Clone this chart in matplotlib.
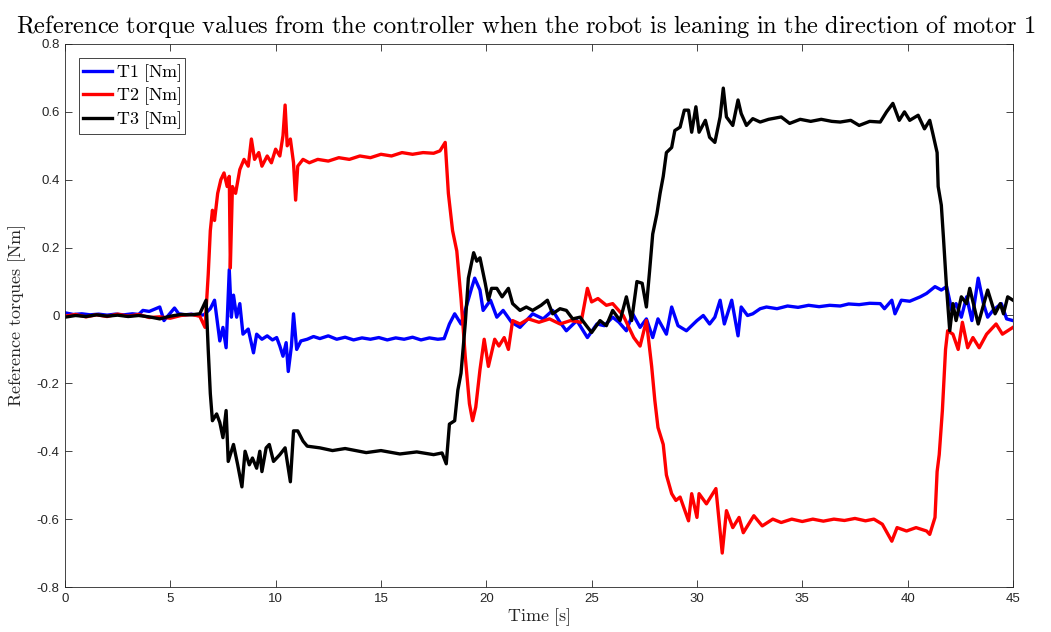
import numpy as np
import matplotlib
matplotlib.use("Agg")
import matplotlib.pyplot as plt

# torque references read back from the controller log (time in s, torque in Nm)
t1 = [0, 0.4, 0.8, 1.2, 1.6, 2.0, 2.4, 2.8, 3.2, 3.5, 3.7, 4.0, 4.3, 4.5, 4.7, 4.9, 5.2, 5.4, 5.7, 6.0,
      6.3, 6.6, 6.9, 7.1, 7.35, 7.5, 7.65, 7.8, 7.9, 8.0, 8.15, 8.3, 8.45, 8.7, 8.95, 9.1, 9.35, 9.6,
      9.85, 10.05, 10.2, 10.35, 10.5, 10.6, 10.75, 10.85, 11.0, 11.2, 11.5, 11.8, 12.1, 12.5, 12.9,
      13.3, 13.7, 14.1, 14.5, 14.9, 15.3, 15.7, 16.1, 16.5, 16.9, 17.3, 17.7, 18.0, 18.25, 18.5, 18.8,
      19.0, 19.3, 19.45, 19.7, 19.85, 20.2, 20.5, 20.8, 21.2, 21.6, 22.2, 22.7, 23.15, 23.5, 23.8,
      24.3, 24.8, 25.25, 25.6, 26.0, 26.3, 26.65, 26.95, 27.3, 27.6, 27.9, 28.15, 28.55, 28.8, 29.1,
      29.5, 30.0, 30.3, 30.6, 30.85, 31.1, 31.3, 31.65, 31.95, 32.1, 32.4, 32.65, 33.0, 33.3, 33.8,
      34.3, 34.8, 35.3, 35.8, 36.3, 36.8, 37.2, 37.7, 38.2, 38.7, 38.9, 39.25, 39.4, 39.7, 40.1,
      40.6, 40.9, 41.3, 41.6, 41.85, 42.1, 42.3, 42.55, 42.8, 43.05, 43.35, 43.6, 43.8, 44.05,
      44.45, 44.7, 45.0]
T1 = [0.008, 0.003, 0.005, 0.002, 0.004, 0.001, 0.004, 0.002, 0.005, 0.003, 0.015, 0.012, 0.02,
      0.025, -0.015, 0.0, 0.022, 0.005, 0.002, 0.004, 0.0, 0.002, 0.02, 0.045, -0.075, -0.035,
      -0.095, 0.135, -0.005, 0.06, -0.005, 0.035, -0.055, -0.04, -0.11, -0.055, -0.07, -0.06,
      -0.072, -0.065, -0.09, -0.12, -0.08, -0.165, -0.09, 0.005, -0.10, -0.075, -0.07, -0.062,
      -0.068, -0.06, -0.07, -0.064, -0.072, -0.066, -0.07, -0.065, -0.072, -0.066, -0.07, -0.064,
      -0.072, -0.066, -0.07, -0.068, -0.025, 0.005, -0.025, 0.015, 0.08, 0.11, 0.075, 0.015, 0.045,
      -0.005, 0.015, -0.02, -0.035, 0.005, -0.01, 0.015, -0.02, -0.045, -0.015, -0.065, -0.025,
      -0.03, -0.005, -0.02, -0.045, 0.005, -0.035, -0.01, -0.065, -0.01, -0.055, 0.025, -0.03,
      -0.045, -0.015, 0.0, -0.025, -0.005, 0.045, -0.025, 0.045, -0.06, 0.025, 0.0, 0.005, 0.02,
      0.025, 0.02, 0.028, 0.024, 0.03, 0.026, 0.03, 0.028, 0.034, 0.032, 0.036, 0.035, 0.02, 0.045,
      0.005, 0.045, 0.042, 0.055, 0.065, 0.085, 0.075, 0.085, 0.015, 0.035, -0.005, 0.055, -0.015,
      0.11, 0.035, -0.005, 0.015, 0.035, -0.01, -0.015]

t2 = [0, 0.5, 1.0, 1.5, 2.0, 2.5, 3.0, 3.5, 4.0, 4.5, 5.0, 5.5, 6.0, 6.4, 6.65, 6.8, 6.9, 7.0, 7.1,
      7.25, 7.4, 7.55, 7.7, 7.8, 7.85, 7.95, 8.1, 8.3, 8.5, 8.7, 8.85, 9.0, 9.2, 9.35, 9.6, 9.8, 10.0,
      10.2, 10.35, 10.45, 10.55, 10.7, 10.85, 10.95, 11.05, 11.3, 11.6, 12.0, 12.5, 13.0, 13.5, 14.0,
      14.5, 15.0, 15.5, 16.0, 16.5, 17.0, 17.5, 17.8, 18.05, 18.2, 18.4, 18.6, 18.8, 19.0, 19.2,
      19.35, 19.5, 19.7, 19.9, 20.1, 20.4, 20.6, 20.85, 21.05, 21.25, 21.6, 22.0, 22.5, 23.0, 23.5,
      24.0, 24.5, 24.8, 25.0, 25.3, 25.7, 26.0, 26.5, 27.0, 27.3, 27.6, 27.85, 28.0, 28.15, 28.4,
      28.55, 28.8, 29.0, 29.2, 29.6, 29.75, 30.0, 30.1, 30.45, 30.9, 31.2, 31.4, 31.7, 32.0, 32.2,
      32.7, 33.1, 33.6, 34.0, 34.5, 35.0, 35.5, 36.0, 36.5, 37.0, 37.5, 38.0, 38.4, 38.8, 39.25,
      39.5, 39.95, 40.4, 40.9, 41.05, 41.3, 41.4, 41.5, 41.65, 41.8, 41.9, 42.15, 42.4, 42.6, 42.85,
      43.1, 43.4, 43.75, 44.2, 44.5, 45.0]
T2 = [-0.002, 0.003, -0.004, 0.002, -0.003, 0.004, -0.002, 0.003, -0.006, -0.004, -0.008, 0.0,
      0.003, -0.002, -0.035, 0.12, 0.25, 0.31, 0.28, 0.36, 0.40, 0.42, 0.38, 0.41, 0.14, 0.38, 0.36,
      0.43, 0.46, 0.44, 0.52, 0.46, 0.48, 0.44, 0.47, 0.45, 0.49, 0.47, 0.53, 0.62, 0.50, 0.52, 0.45,
      0.34, 0.44, 0.46, 0.45, 0.46, 0.455, 0.465, 0.46, 0.47, 0.465, 0.475, 0.47, 0.48, 0.475, 0.48,
      0.478, 0.485, 0.51, 0.36, 0.25, 0.19, 0.05, -0.12, -0.26, -0.31, -0.27, -0.16, -0.07, -0.15,
      -0.07, -0.09, -0.065, -0.10, -0.015, -0.025, -0.01, -0.02, -0.01, -0.025, -0.015, -0.02, 0.08,
      0.04, 0.05, 0.03, 0.035, 0.0, -0.065, -0.09, -0.015, -0.15, -0.25, -0.33, -0.38, -0.47,
      -0.525, -0.545, -0.535, -0.605, -0.525, -0.595, -0.525, -0.555, -0.51, -0.70, -0.575, -0.625,
      -0.595, -0.64, -0.59, -0.62, -0.60, -0.61, -0.60, -0.607, -0.60, -0.606, -0.60, -0.604,
      -0.598, -0.605, -0.60, -0.615, -0.665, -0.625, -0.635, -0.625, -0.635, -0.645, -0.595, -0.46,
      -0.41, -0.28, -0.10, -0.045, -0.055, -0.10, -0.02, -0.095, -0.065, -0.095, -0.055, -0.025,
      -0.055, -0.035]

t3 = [0, 0.5, 1.0, 1.5, 2.0, 2.5, 3.0, 3.5, 4.0, 4.5, 5.0, 5.5, 6.0, 6.4, 6.7, 6.8, 6.9, 7.0, 7.2,
      7.35, 7.5, 7.65, 7.75, 8.0, 8.2, 8.4, 8.55, 8.75, 8.9, 9.1, 9.25, 9.35, 9.55, 9.7, 9.9, 10.2,
      10.45, 10.7, 10.85, 11.05, 11.3, 11.5, 12.1, 12.7, 13.3, 14.3, 15.0, 15.9, 16.7, 17.5, 17.9,
      18.1, 18.25, 18.5, 18.65, 18.8, 19.0, 19.15, 19.4, 19.55, 19.7, 19.95, 20.1, 20.25, 20.5,
      20.75, 21.05, 21.25, 21.6, 21.9, 22.2, 22.6, 22.9, 23.15, 23.5, 23.8, 24.1, 24.45, 24.75, 25.0,
      25.4, 25.7, 26.0, 26.35, 26.65, 26.9, 27.15, 27.4, 27.6, 27.75, 27.9, 28.1, 28.25, 28.4, 28.55,
      28.8, 28.95, 29.2, 29.4, 29.6, 29.75, 29.95, 30.1, 30.4, 30.6, 30.85, 31.1, 31.25, 31.4, 31.7,
      31.95, 32.1, 32.35, 32.65, 33.0, 33.4, 34.0, 34.4, 34.9, 35.4, 35.9, 36.4, 36.8, 37.3, 37.7,
      38.2, 38.7, 39.0, 39.3, 39.6, 39.85, 40.1, 40.5, 40.8, 41.05, 41.2, 41.4, 41.45, 41.6, 41.7,
      41.85, 42.0, 42.15, 42.3, 42.55, 42.8, 42.95, 43.35, 43.8, 44.15, 44.4, 44.55, 44.75, 45.0]
T3 = [-0.005, 0.0, -0.003, 0.002, -0.002, 0.001, -0.003, 0.0, -0.004, -0.01, -0.002, 0.003, 0.002,
      0.005, 0.045, -0.10, -0.23, -0.31, -0.29, -0.315, -0.36, -0.28, -0.43, -0.38, -0.44, -0.505,
      -0.40, -0.44, -0.42, -0.45, -0.40, -0.46, -0.39, -0.38, -0.43, -0.41, -0.39, -0.49, -0.34,
      -0.34, -0.37, -0.385, -0.39, -0.398, -0.392, -0.404, -0.398, -0.408, -0.402, -0.41, -0.405,
      -0.437, -0.32, -0.31, -0.22, -0.17, -0.025, 0.11, 0.185, 0.16, 0.17, 0.095, 0.045, 0.08, 0.08,
      0.055, 0.08, 0.035, 0.015, 0.025, 0.015, 0.03, 0.045, 0.005, 0.02, 0.015, -0.01, -0.005, -0.03,
      -0.05, -0.015, -0.03, 0.015, -0.015, 0.055, -0.015, 0.10, 0.095, 0.025, 0.13, 0.24, 0.30, 0.36,
      0.41, 0.48, 0.495, 0.545, 0.555, 0.605, 0.605, 0.54, 0.615, 0.54, 0.575, 0.525, 0.51, 0.585,
      0.67, 0.585, 0.56, 0.635, 0.595, 0.56, 0.58, 0.57, 0.578, 0.585, 0.566, 0.578, 0.572, 0.578,
      0.572, 0.57, 0.575, 0.56, 0.572, 0.57, 0.60, 0.625, 0.575, 0.60, 0.575, 0.59, 0.55, 0.575,
      0.535, 0.48, 0.38, 0.325, 0.23, 0.08, -0.045, 0.035, -0.015, 0.055, 0.035, 0.08, -0.025, 0.075,
      0.005, 0.035, 0.005, 0.055, 0.045]

plt.rcParams['mathtext.fontset'] = 'cm'

fig = plt.figure(figsize=(10.51, 6.32), dpi=100)
ax = fig.add_axes([0.0618, 0.0712, 0.902, 0.8592])

lw = 2.4
ax.plot(t1, T1, color='#0000ff', lw=lw, label=r'$\mathrm{T1\ [Nm]}$')
ax.plot(t2, T2, color='#ff0000', lw=lw, label=r'$\mathrm{T2\ [Nm]}$')
ax.plot(t3, T3, color='#000000', lw=lw, label=r'$\mathrm{T3\ [Nm]}$')

ax.set_xlim(0, 45)
ax.set_ylim(-0.8, 0.8)
ax.set_xticks(np.arange(0, 46, 5))
ax.set_yticks(np.arange(-0.8, 0.81, 0.2))
ax.set_yticklabels(['-0.8', '-0.6', '-0.4', '-0.2', '0', '0.2', '0.4', '0.6', '0.8'])

ax.tick_params(direction='in', top=True, right=True, length=5, width=0.6,
               color='#262626', labelcolor='#262626', labelsize=9.5, pad=4)
for lab in ax.get_xticklabels() + ax.get_yticklabels():
    lab.set_fontfamily('Liberation Sans')
for sp in ax.spines.values():
    sp.set_color('#262626')
    sp.set_linewidth(0.6)

# title sits centred on the whole figure, above the 0.8 tick label
fig.text(0.5, 1 - 26 / 632,
         r'$\mathrm{Reference\ torque\ values\ from\ the\ controller\ when\ the\ robot\ is\ leaning\ in\ the\ direction\ of\ motor\ 1}$',
         fontsize=17.6, ha='center', va='center')
ax.set_xlabel(r'$\mathrm{Time\ [s]}$', fontsize=13, labelpad=1, color='#262626')
ax.set_ylabel(r'$\mathrm{Reference\ torques\ [Nm]}$', fontsize=13, labelpad=6, color='#262626')

leg = ax.legend(loc='upper left', fontsize=13, handlelength=1.6, handletextpad=0.2,
                borderpad=0.2, labelspacing=0.1, fancybox=False, framealpha=1,
                edgecolor='#262626', borderaxespad=0.8)
leg.get_frame().set_linewidth(0.6)

fig.savefig('out.png', dpi=100)
